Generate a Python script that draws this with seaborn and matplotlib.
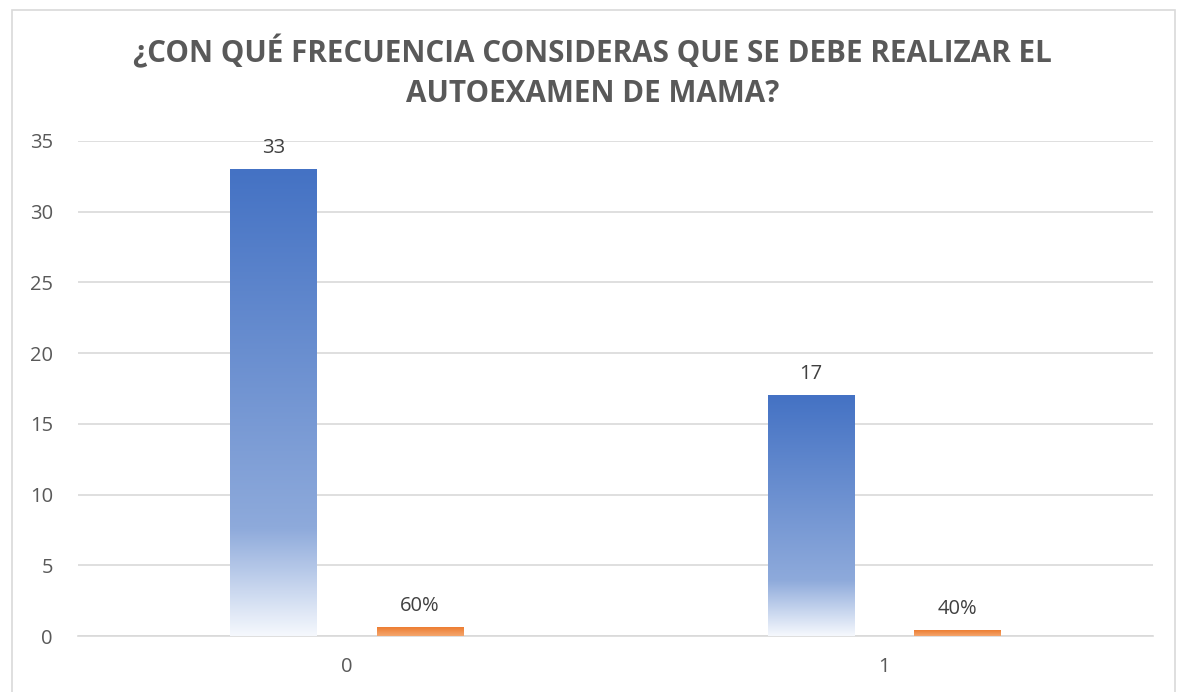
import numpy as np
import pandas as pd
import matplotlib
matplotlib.use('Agg')
import matplotlib.pyplot as plt
from matplotlib.colors import LinearSegmentedColormap
from matplotlib.patches import Rectangle
import seaborn as sns

# Data
categorias = ["0", "1"]
frecuencia = [33, 17]
porcentaje = [0.60, 0.40]
series = ["Frecuencia", "Porcentaje"]
titulo = "¿CON QUÉ FRECUENCIA CONSIDERAS QUE SE DEBE REALIZAR EL\nAUTOEXAMEN DE MAMA?"

df = pd.DataFrame({
    "categoria": categorias * 2,
    "valor": frecuencia + porcentaje,
    "serie": [series[0]] * len(categorias) + [series[1]] * len(categorias),
})

sns.set_theme(style="white")
plt.rcParams['font.family'] = ['Open Sans', 'DejaVu Sans']

gray_text = "#595959"
grid_col = "#D9D9D9"

fig = plt.figure(figsize=(11.85, 6.92), dpi=100)
ax = fig.add_axes([78 / 1185, 1 - 636 / 692, (1153 - 78) / 1185, (636 - 141) / 692])

sns.barplot(data=df, x="categoria", y="valor", hue="serie", hue_order=series,
            palette=["#4472C4", "#ED7D31"], width=0.545, gap=0.41,
            legend=False, ax=ax, zorder=3)

ax.set_xlim(-0.5, 1.5)
ax.set_ylim(0, 35)
ax.set_yticks(range(0, 36, 5))
ax.set_xlabel("")
ax.set_ylabel("")
ax.yaxis.grid(True, color=grid_col, linewidth=1.2, zorder=0)
ax.set_axisbelow(True)
for s in ["top", "right", "left"]:
    ax.spines[s].set_visible(False)
ax.spines["bottom"].set_color(grid_col)
ax.spines["bottom"].set_linewidth(1.2)
ax.tick_params(axis="both", length=0, labelsize=14.5, colors=gray_text)
ax.tick_params(axis="y", pad=18)
ax.tick_params(axis="x", pad=15)

# gradient fills replacing the flat bar colours
grad_blue = LinearSegmentedColormap.from_list(
    "azul", [(0.0, "#F5F8FD"), (0.23, "#8EAADB"), (1.0, "#4472C4")])
grad_orange = LinearSegmentedColormap.from_list(
    "naranja", [(0.0, "#F4A66E"), (1.0, "#ED7D31")])
ramp = np.linspace(0, 1, 256).reshape(-1, 1)
for cont, cmap in zip(ax.containers, [grad_blue, grad_orange]):
    for rect in cont:
        x0, y0 = rect.get_xy()
        w, h = rect.get_width(), rect.get_height()
        rect.set_facecolor("none")
        rect.set_edgecolor("none")
        ax.imshow(ramp, cmap=cmap, origin="lower", aspect="auto",
                  extent=[x0, x0 + w, y0, y0 + h], zorder=3, interpolation="bicubic")
ax.set_xlim(-0.5, 1.5)
ax.set_ylim(0, 35)

ax.bar_label(ax.containers[0], labels=[str(v) for v in frecuencia],
             padding=8, fontsize=14.5, color="#404040")
ax.bar_label(ax.containers[1], labels=[f"{v:.0%}" for v in porcentaje],
             padding=8, fontsize=14.5, color="#404040")

fig.text(0.5, 1 - 72 / 692, titulo, ha="center", va="center", fontsize=21.3,
         fontweight="bold", color=gray_text, linespacing=1.4)

# chart-area border
fig.patches.append(Rectangle((12 / 1185, -0.02), (1175 - 12) / 1185, 1.02 - 10 / 692,
                             transform=fig.transFigure, fill=False,
                             edgecolor=grid_col, linewidth=1.2))

fig.savefig("out.png", dpi=100)
